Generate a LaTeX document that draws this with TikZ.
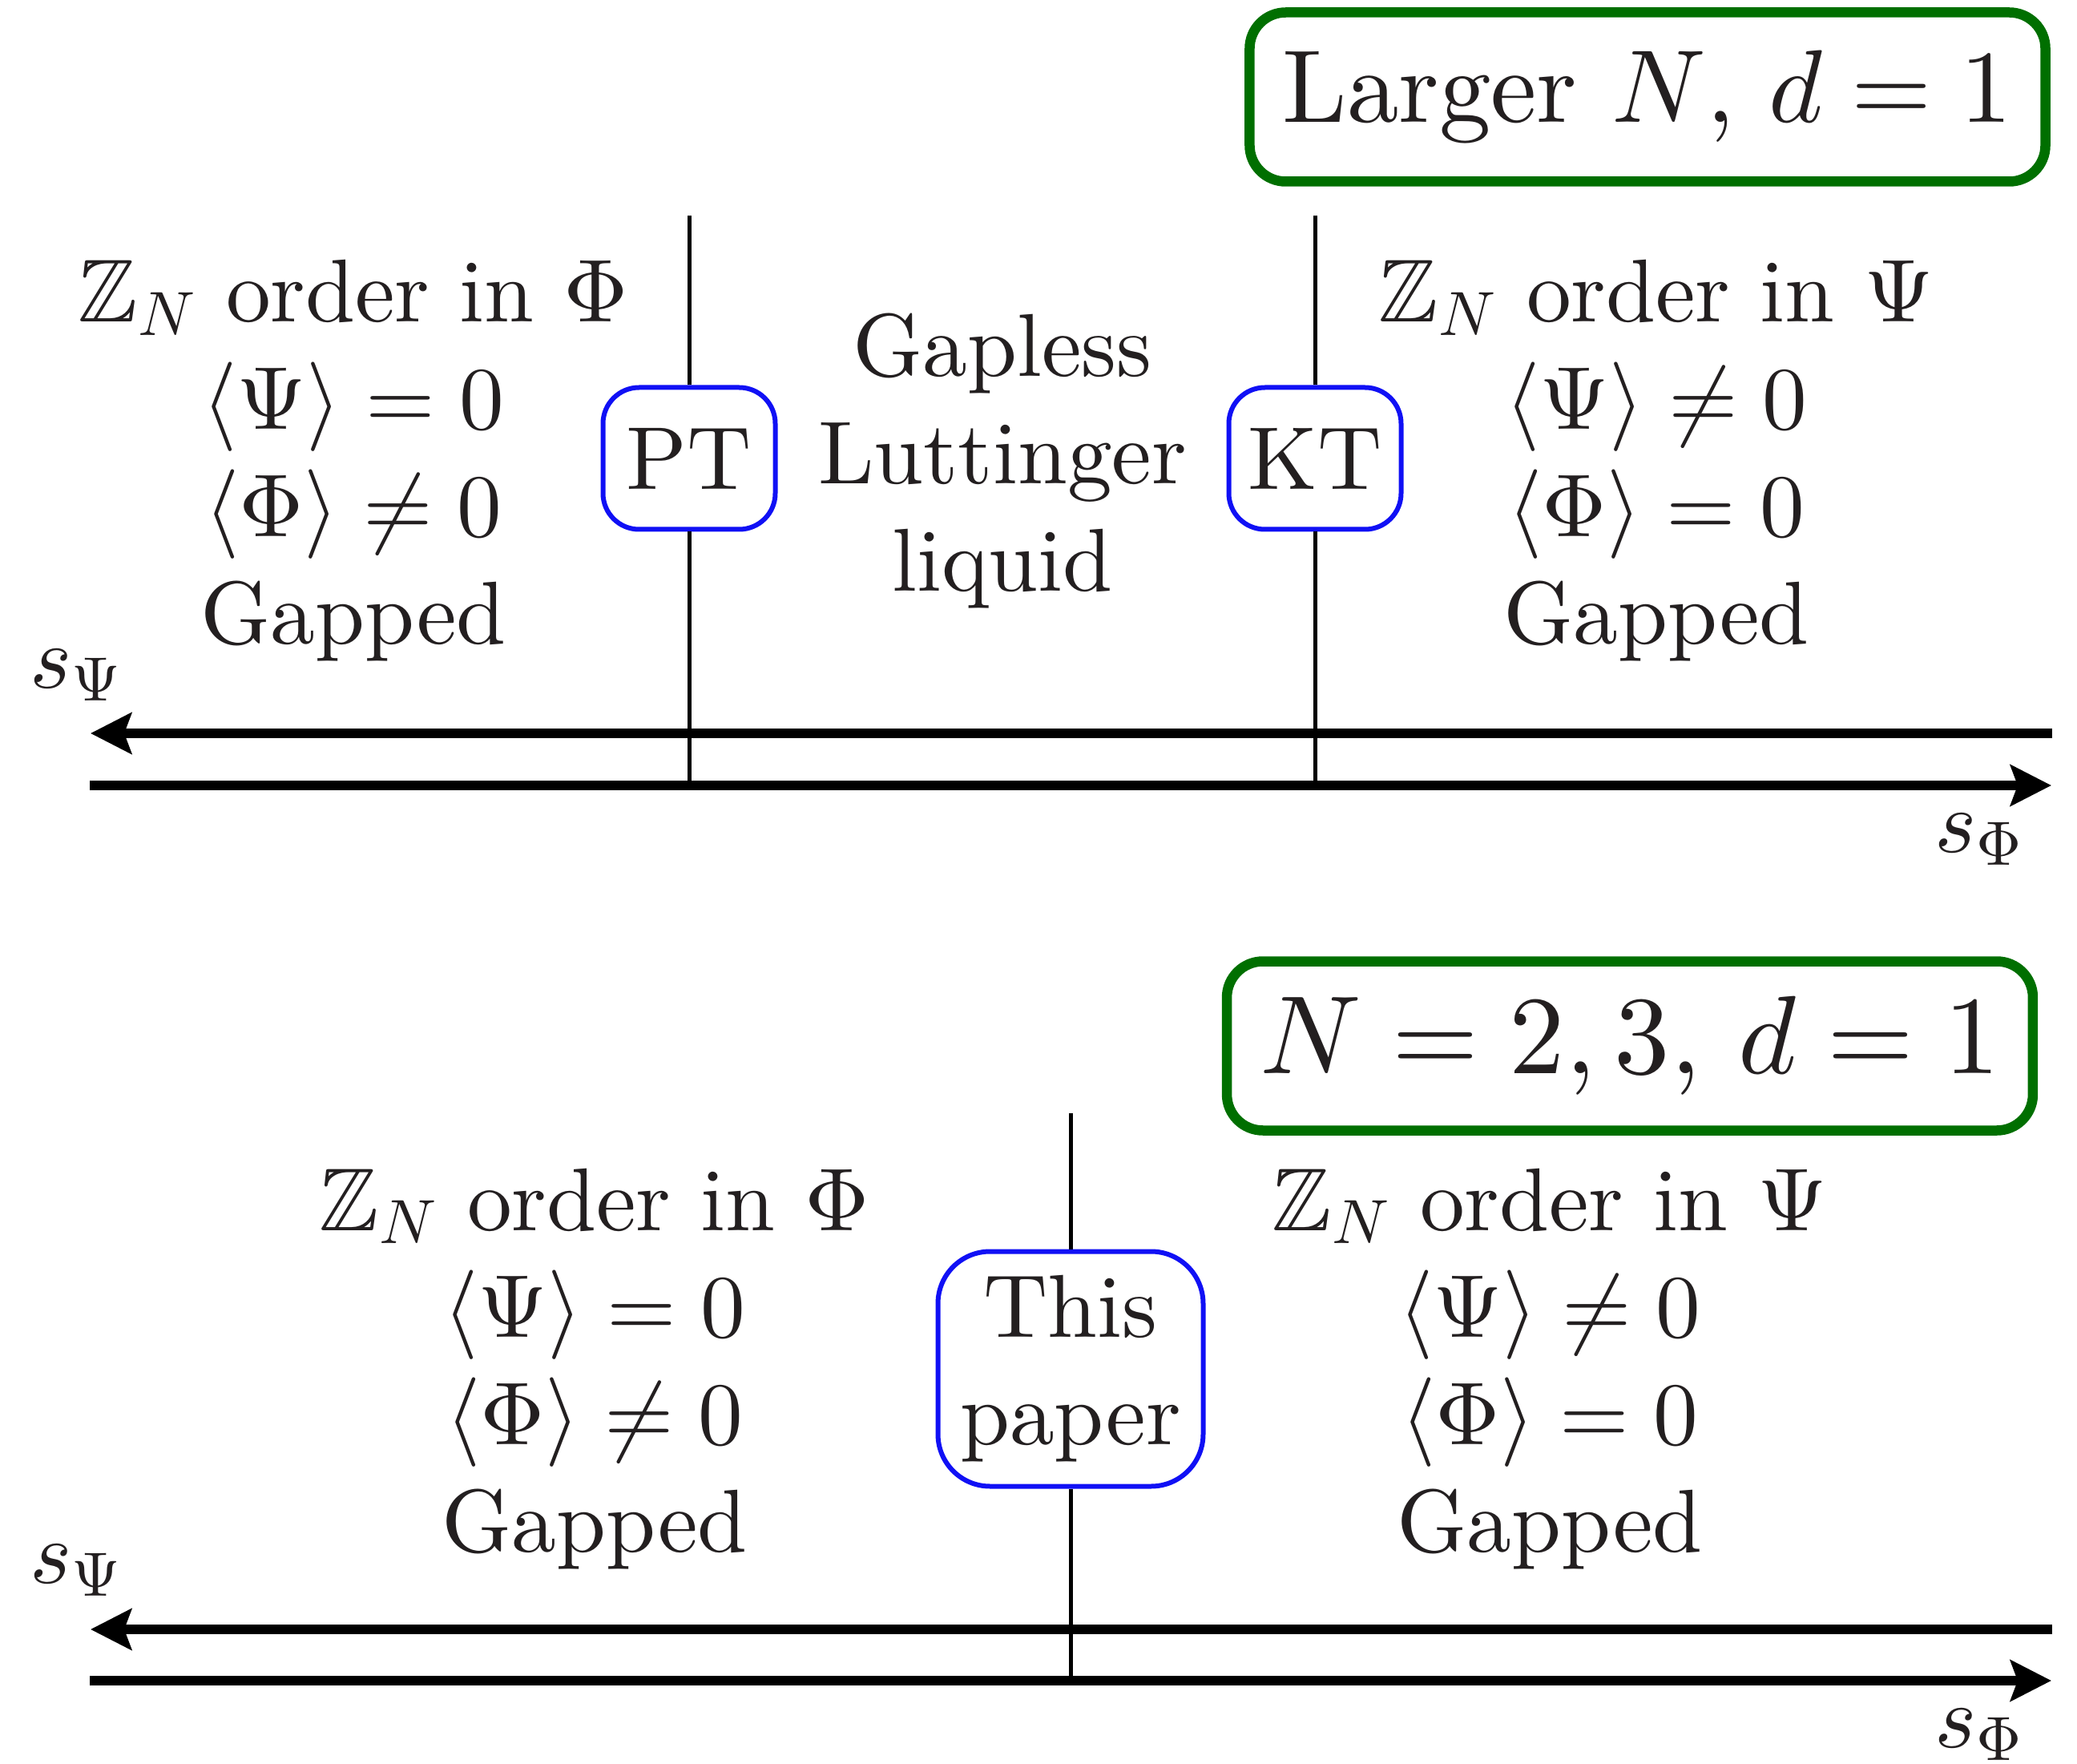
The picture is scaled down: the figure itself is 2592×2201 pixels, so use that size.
\documentclass[tikz,border=0pt]{standalone}
\usepackage{amsmath}
\usepackage{amssymb}
\usepackage{fontspec}
\setmainfont{lmroman10-regular.otf}[BoldFont=lmroman10-bold.otf, ItalicFont=lmroman10-italic.otf]
\DeclareFontShape{OT1}{cmr}{m}{n}{<-> cmr10}{}
\DeclareFontShape{OML}{cmm}{m}{it}{<-> cmmi10}{}
\DeclareFontShape{OMS}{cmsy}{m}{n}{<-> cmsy10}{}
\usetikzlibrary{arrows.meta,positioning}
\definecolor{ink}{HTML}{231F20}
\definecolor{regimegreen}{HTML}{006F00}
\definecolor{transblue}{HTML}{1010F5}
\newcommand{\phasefont}{\fontsize{31.7}{38.1}\selectfont}

\begin{document}
\begin{tikzpicture}[x=0.1mm, y=-0.1mm,
  phase/.style={align=center, font=\phasefont, text=ink, inner sep=0pt},
  trans/.style={rounded corners=4.5mm, draw=transblue, line width=0.6mm, fill=white,
                minimum width=21.5mm, minimum height=17.7mm, align=center,
                font=\phasefont, text=ink, inner sep=0pt},
  regime/.style={rounded corners=4.5mm, draw=regimegreen, line width=1.25mm, inner xsep=4.1mm,
                 minimum height=21.1mm, text=ink, font=\fontsize{#1}{#1}\selectfont},
  axisarr/.style={-{Stealth[length=5.1mm, width=5.1mm, inset=0.9mm]}, line width=1.2mm},
  wall/.style={line width=0.5mm},
  axlabel/.style={anchor=base west, font=\phasefont, text=ink, inner sep=0pt}
]
  \useasboundingbox (0,0) rectangle (2592,2201);

  % upper panel
  \node[regime=36.7] (tagA) at (2056,121) {Larger $N$, $d=1$};
  \node[phase] (phiA) at (441,575) {$\mathbb{Z}_N$ order in $\Phi$\\ $\langle\Psi\rangle=0$\\ $\langle\Phi\rangle\neq0$\\ Gapped};
  \node[phase] (llA) at (1251,575) {Gapless\\ Luttinger\\ liquid};
  \node[phase] (psiA) at (2067,575) {$\mathbb{Z}_N$ order in $\Psi$\\ $\langle\Psi\rangle\neq0$\\ $\langle\Phi\rangle=0$\\ Gapped};
  \node[trans] (pt) at (860,572) {PT};
  \node[trans] (kt) at (1641,572) {KT};

  \coordinate (ptTop) at (860,269);
  \coordinate (ptFoot) at (860,980);
  \coordinate (ktTop) at (1641,269);
  \coordinate (ktFoot) at (1641,980);
  \draw[wall] (ptTop) -- (pt.north);
  \draw[wall] (pt.south) -- (ptFoot);
  \draw[wall] (ktTop) -- (kt.north);
  \draw[wall] (kt.south) -- (ktFoot);

  \coordinate (psiRA) at (2561,915);
  \coordinate (psiLA) at (113,915);
  \coordinate (phiLA) at (112,980);
  \coordinate (phiRA) at (2560,980);
  \draw[axisarr] (psiRA) -- (psiLA);
  \draw[axisarr] (phiLA) -- (phiRA);
  \node[axlabel] (sPsiA) at (37,858) {$s_\Psi$};
  \node[axlabel] (sPhiA) at (2414,1063) {$s_\Phi$};

  % lower panel
  \node[regime=39.5] (tagB) at (2034,1305) {$N=2,3$, $d=1$};
  \node[phase] (phiB) at (742,1708) {$\mathbb{Z}_N$ order in $\Phi$\\ $\langle\Psi\rangle=0$\\ $\langle\Phi\rangle\neq0$\\ Gapped};
  \node[phase] (psiB) at (1934,1708) {$\mathbb{Z}_N$ order in $\Psi$\\ $\langle\Psi\rangle\neq0$\\ $\langle\Phi\rangle=0$\\ Gapped};
  \node[trans, rounded corners=6.5mm, minimum width=33.1mm, minimum height=29.3mm] (paper) at (1336,1708) {This\\ paper};

  \coordinate (paperTop) at (1336,1389);
  \coordinate (paperFoot) at (1336,2097);
  \draw[wall] (paperTop) -- (paper.north);
  \draw[wall] (paper.south) -- (paperFoot);

  \coordinate (psiRB) at (2561,2033);
  \coordinate (psiLB) at (113,2033);
  \coordinate (phiLB) at (112,2097);
  \coordinate (phiRB) at (2560,2097);
  \draw[axisarr] (psiRB) -- (psiLB);
  \draw[axisarr] (phiLB) -- (phiRB);
  \node[axlabel] (sPsiB) at (37,1975) {$s_\Psi$};
  \node[axlabel] (sPhiB) at (2414,2180) {$s_\Phi$};
\end{tikzpicture}
\end{document}
